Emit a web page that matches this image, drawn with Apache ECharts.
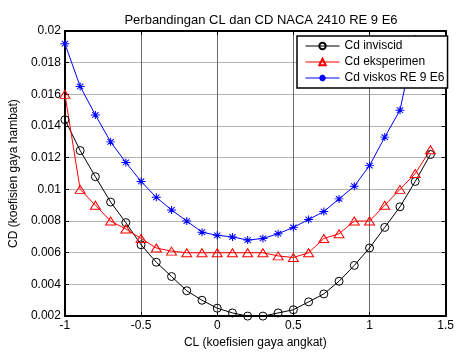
<!DOCTYPE html>
<html>
<head>
<meta charset="utf-8">
<script src="https://cdn.jsdelivr.net/npm/echarts@6/dist/echarts.min.js"></script>
<style>
  html, body { margin: 0; padding: 0; background: #fff; }
  #chart { width: 457px; height: 354px; }
</style>
</head>
<body>
<div id="chart"></div>
<script>
// Lift coefficient stations
const cl = [-1, -0.9, -0.8, -0.7, -0.6, -0.5, -0.4, -0.3, -0.2, -0.1, 0, 0.1, 0.2,
            0.3, 0.4, 0.5, 0.6, 0.7, 0.8, 0.9, 1.0, 1.1, 1.2, 1.3, 1.4];

// Drag coefficient, inviscid estimate
const cdInviscid = [0.0144, 0.01245, 0.0108, 0.0092, 0.0079, 0.0065, 0.0054, 0.0045, 0.0036,
                    0.0030, 0.0025, 0.0022, 0.0020, 0.0020, 0.0022, 0.0024, 0.0029, 0.0034,
                    0.0042, 0.0052, 0.0063, 0.0076, 0.0089, 0.0105, 0.0122];

// Drag coefficient, experiment
const cdExperiment = [0.0160, 0.0100, 0.0090, 0.0080, 0.0075, 0.0069, 0.0063, 0.0061, 0.0060,
                      0.0060, 0.0060, 0.0060, 0.0060, 0.0060, 0.0058, 0.0057, 0.0060, 0.0069,
                      0.0072, 0.0080, 0.0080, 0.0090, 0.0100, 0.0110, 0.0125];

// Drag coefficient, viscous (Re = 9e6); last station runs off the top
const cdViscous = [0.0192, 0.0165, 0.0147, 0.0130, 0.0117, 0.0105, 0.0095, 0.0087, 0.0080,
                   0.0073, 0.0071, 0.0070, 0.0068, 0.0069, 0.0072, 0.0076, 0.0081, 0.0086,
                   0.0094, 0.0102, 0.0115, 0.0133, 0.0150, 0.0195];

const seriesNames = ['Cd inviscid', 'Cd eksperimen', 'Cd viskos RE 9 E6'];
const xTicks = { min: -1, max: 1.5, step: 0.5 };
const yTicks = { min: 0.002, max: 0.02, step: 0.002 };

const FONT = '"Liberation Sans", Arial, Helvetica, sans-serif';
const asterisk = 'path://M5,0 L5,10 M0,5 L10,5 M1.5,1.5 L8.5,8.5 M1.5,8.5 L8.5,1.5';

function pairs(ys) {
  return ys.map((y, i) => [cl[i], y]);
}
function trimNum(v) {
  return String(parseFloat(v.toFixed(4)));
}

const chart = echarts.init(document.getElementById('chart'), null, { renderer: 'canvas' });

const hiddenLabels = { show: false };
const innerTicks = { show: true, inside: true, length: 4, lineStyle: { color: '#000', width: 1 } };
const frameLine = { show: true, onZero: false, lineStyle: { color: '#000', width: 2 } };

chart.setOption({
  animation: false,
  backgroundColor: '#fff',
  textStyle: { fontFamily: FONT },
  title: {
    text: 'Perbandingan CL dan CD NACA 2410 RE 9 E6',
    left: 256,
    top: 9,
    textAlign: 'center',
    textStyle: { fontFamily: FONT, fontSize: 13, fontWeight: 'normal', color: '#000' }
  },
  legend: {
    orient: 'vertical',
    left: 297,
    top: 36,
    padding: [4, 3, 4, 8],
    itemGap: 4,
    itemWidth: 34,
    itemHeight: 8,
    backgroundColor: '#fff',
    borderColor: '#000',
    borderWidth: 1.5,
    borderRadius: 0,
    lineStyle: { width: 1 },
    textStyle: { fontFamily: FONT, fontSize: 12, color: '#000', lineHeight: 12 },
    data: seriesNames
  },
  grid: { left: 63, right: 4, top: 31, bottom: 32, containLabel: false },
  xAxis: [{
    type: 'value',
    position: 'bottom',
    min: xTicks.min, max: xTicks.max, interval: xTicks.step,
    axisLine: frameLine,
    axisTick: innerTicks,
    axisLabel: { color: '#000', fontSize: 12, fontFamily: FONT, margin: 4, formatter: trimNum },
    splitLine: { show: true, lineStyle: { color: '#6a6a6a', width: 1 } },
    name: 'CL (koefisien gaya angkat)',
    nameLocation: 'middle',
    nameGap: 19,
    nameTextStyle: { color: '#000', fontSize: 12, fontFamily: FONT }
  }, {
    type: 'value',
    position: 'top',
    min: xTicks.min, max: xTicks.max, interval: xTicks.step,
    axisLine: frameLine,
    axisTick: innerTicks,
    axisLabel: hiddenLabels,
    splitLine: { show: false }
  }],
  yAxis: [{
    type: 'value',
    position: 'left',
    min: yTicks.min, max: yTicks.max, interval: yTicks.step,
    axisLine: frameLine,
    axisTick: innerTicks,
    axisLabel: { color: '#000', fontSize: 12, fontFamily: FONT, margin: 4, formatter: trimNum },
    splitLine: { show: true, lineStyle: { color: '#b4b4b4', width: 1 } },
    name: 'CD (koefisien gaya hambat)',
    nameLocation: 'middle',
    nameGap: 39,
    nameTextStyle: { color: '#000', fontSize: 12, fontFamily: FONT }
  }, {
    type: 'value',
    position: 'right',
    min: yTicks.min, max: yTicks.max, interval: yTicks.step,
    axisLine: frameLine,
    axisTick: innerTicks,
    axisLabel: hiddenLabels,
    splitLine: { show: false }
  }],
  series: [{
    name: seriesNames[0],
    type: 'line',
    data: pairs(cdInviscid),
    symbol: 'circle',
    symbolSize: 8,
    clip: true,
    lineStyle: { color: '#000', width: 1 },
    itemStyle: { color: 'rgba(0,0,0,0)', borderColor: '#000', borderWidth: 1 },
    emphasis: { disabled: true }
  }, {
    name: seriesNames[1],
    type: 'line',
    data: pairs(cdExperiment),
    symbol: 'triangle',
    symbolSize: [10, 8],
    clip: true,
    lineStyle: { color: '#ff0000', width: 1 },
    itemStyle: { color: 'rgba(0,0,0,0)', borderColor: '#ff0000', borderWidth: 1 },
    emphasis: { disabled: true }
  }, {
    name: seriesNames[2],
    type: 'line',
    data: pairs(cdViscous),
    symbol: asterisk,
    symbolSize: [9, 8],
    clip: true,
    lineStyle: { color: '#0000ff', width: 1 },
    itemStyle: { color: 'rgba(0,0,0,0)', borderColor: '#0000ff', borderWidth: 1 },
    emphasis: { disabled: true }
  }]
});
</script>
</body>
</html>
